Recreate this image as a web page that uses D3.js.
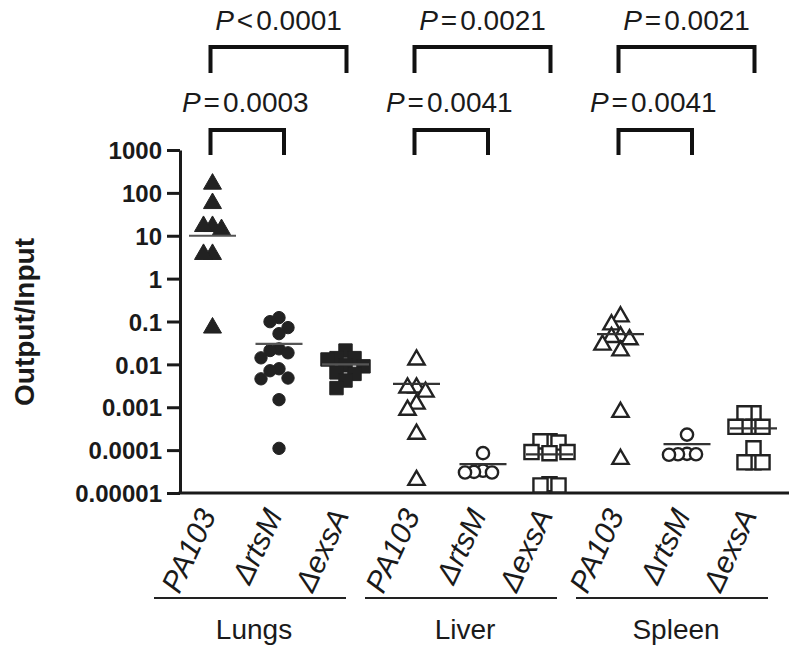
<!DOCTYPE html>
<html>
<head>
<meta charset="utf-8">
<script src="https://cdn.jsdelivr.net/npm/d3@7"></script>
<style>
  html, body { margin: 0; padding: 0; background: #fff; }
  svg { display: block; }
  text { font-family: "Liberation Sans", Arial, Helvetica, sans-serif; fill: #1a1a1a; }
</style>
</head>
<body>
<svg id="chart" width="800" height="655"></svg>
<script>
// ---------------- data ----------------
const groups = ["Lungs", "Liver", "Spleen"];
const strains = ["PA103", "\u0394rtsM", "\u0394exsA"];
const yTickValues = [1000, 100, 10, 1, 0.1, 0.01, 0.001, 0.0001, 0.00001];
const yTickLabels = ["1000", "100", "10", "1", "0.1", "0.01", "0.001", "0.0001", "0.00001"];

const lungsPA103 = [170, 60, 17.5, 17.5, 14.8, 3.9, 3.9, 0.075];
const lungsRtsM  = [0.123, 0.099, 0.072, 0.052, 0.023, 0.021, 0.0186, 0.0142, 0.0079, 0.0071, 0.0048, 0.0046, 0.0015, 0.00011];
const lungsExsA  = [0.021, 0.014, 0.014, 0.013, 0.0095, 0.009, 0.0065, 0.006, 0.0042, 0.0028];
const liverPA103 = [0.0135, 0.003, 0.003, 0.0024, 0.00126, 0.00091, 0.00025, 0.000021];
const liverRtsM  = [0.000085, 0.000033, 0.000031, 0.00003, 0.00003];
const liverExsA  = [0.00016, 0.00016, 0.00015, 0.00009, 0.00009, 0.000085, 0.000016, 0.000015, 0.000015];
const spleenPA103 = [0.137, 0.089, 0.047, 0.045, 0.04, 0.03, 0.022, 0.00081, 0.000065];
const spleenRtsM  = [0.00023, 0.000082, 0.00008, 0.00008, 0.000078];
const spleenExsA  = [0.00072, 0.00072, 0.00035, 0.00035, 0.00035, 0.00035, 0.00011, 0.000052, 0.000052, 0.000052];

// mean line per series, in order Lungs(PA103, rtsM, exsA), Liver(...), Spleen(...)
const meanValues = [10, 0.03, 0.01, 0.0035, 0.000047, 0.00008, 0.051, 0.000138, 0.00032];

// P values: wide bracket (PA103 vs ΔexsA) and narrow bracket (PA103 vs ΔrtsM)
const pWide   = ["<0.0001", "=0.0021", "=0.0021"];
const pNarrow = ["=0.0003", "=0.0041", "=0.0041"];

const seriesValues = [
  lungsPA103, lungsRtsM, lungsExsA,
  liverPA103, liverRtsM, liverExsA,
  spleenPA103, spleenRtsM, spleenExsA
];

// ---------------- layout ----------------
const svg = d3.select("#chart");
const ink = "#1a1a1a";
const axisLeftX = 180, axisBottomY = 493, axisTopY = 150, axisRightX = 789;

const y = d3.scaleLog().domain([1e-5, 1e3]).range([axisBottomY, axisTopY]);
const xGroup = d3.scalePoint().domain(groups).range([212.5, 620.5]);
const xStrain = d3.scalePoint().domain(strains).range([0, 133]);
const xPos = (g, s) => xGroup(g) + xStrain(s);
const xLabelGroup = d3.scalePoint().domain(groups).range([250, 672]);

// series list
const series = [];
groups.forEach((g, gi) => strains.forEach((s, si) => {
  const i = gi * 3 + si;
  series.push({ group: g, strain: s, values: seriesValues[i], mean: meanValues[i],
                filled: gi === 0, shape: si });
}));

// ---------------- y axis ----------------
const yAxis = d3.axisLeft(y)
  .tickValues(yTickValues)
  .tickFormat((d, i) => yTickLabels[i])
  .tickSize(13).tickSizeOuter(0).tickPadding(5);
const gy = svg.append("g").attr("transform", `translate(${axisLeftX},0)`).call(yAxis);
gy.select(".domain").attr("stroke", ink).attr("stroke-width", 3);
gy.selectAll(".tick line").attr("stroke", ink).attr("stroke-width", 3);
gy.selectAll(".tick text")
  .style("font-family", '"Liberation Sans", Arial, sans-serif')
  .style("font-weight", "bold").style("font-size", "24px").attr("fill", "#2a2a2a").attr("dy", "0.36em");

// x axis baseline
svg.append("line")
  .attr("x1", axisLeftX - 1.5).attr("x2", axisRightX)
  .attr("y1", axisBottomY).attr("y2", axisBottomY)
  .attr("stroke", ink).attr("stroke-width", 3);

// y label
svg.append("text")
  .attr("transform", `translate(34,322) rotate(-90)`)
  .attr("text-anchor", "middle")
  .style("font-weight", "bold").style("font-size", "28px").attr("fill", "#2a2a2a")
  .text("Output/Input");

// ---------------- points (dodged like Prism scatter) ----------------
const symbolTypes = [d3.symbolTriangle, d3.symbolCircle, d3.symbolSquare];
const symbolSizes = [[140, 115], [120, 118], [180, 200]]; // [filled, open]
const step = 9, minDx = 9, minDy = 11;

function dodge(values, cx) {
  const placed = [];
  const order = [0, -1, 1, -2, 2, -3, 3, -4, 4];
  values.forEach(v => {
    const py = y(v);
    for (const k of order) {
      const px = cx + k * step;
      if (!placed.some(p => Math.abs(p.x - px) < minDx && Math.abs(p.y - py) < minDy)) {
        placed.push({ x: px, y: py, v });
        break;
      }
    }
  });
  return placed;
}

series.forEach(s => {
  const cx = xPos(s.group, s.strain);
  const pts = dodge(s.values, cx);
  const sym = d3.symbol().type(symbolTypes[s.shape]).size(symbolSizes[s.shape][s.filled ? 0 : 1]);
  svg.append("g").selectAll("path").data(pts).join("path")
    .attr("d", sym)
    .attr("transform", d => `translate(${d.x},${d.y + (s.shape === 0 ? 1 : 0)})`)
    .attr("fill", s.filled ? "#222" : "#fff")
    .attr("stroke", "#222")
    .attr("stroke-width", s.filled ? 1 : 2.4)
    .attr("stroke-linejoin", "miter");
  // mean line
  svg.append("line")
    .attr("x1", cx - 23.5).attr("x2", cx + 23.5)
    .attr("y1", y(s.mean)).attr("y2", y(s.mean))
    .attr("stroke", s.filled ? "#555" : "#333").attr("stroke-width", 2.2);
});

// ---------------- brackets & P values ----------------
function pText(sel, x, yy, val) {
  const t = sel.append("text").attr("x", x).attr("y", yy).attr("text-anchor", "middle")
    .style("font-size", "28px").attr("fill", "#151515");
  t.append("tspan").style("font-style", "italic").text("P");
  t.append("tspan").attr("dx", 3).text(val.charAt(0));
  t.append("tspan").attr("dx", 3).text(val.slice(1));
}
groups.forEach((g, gi) => {
  const xa = xPos(g, strains[0]) - 2;
  const xb = xPos(g, strains[2]) + 1;
  const xm = xPos(g, strains[1]) + 5;
  svg.append("path")
    .attr("d", `M${xa},73 V47 H${xb} V73`)
    .attr("fill", "none").attr("stroke", "#111").attr("stroke-width", 4);
  pText(svg, (xa + xb) / 2, 30, pWide[gi]);
  svg.append("path")
    .attr("d", `M${xa},155 V130 H${xm} V155`)
    .attr("fill", "none").attr("stroke", "#111").attr("stroke-width", 4);
  pText(svg, (xa + xm) / 2 - 2, 112, pNarrow[gi]);
});

// ---------------- category labels ----------------
groups.forEach(g => strains.forEach(s => {
  svg.append("text")
    .attr("transform", `translate(${xPos(g, s) + 4},515) rotate(-65)`)
    .attr("text-anchor", "end")
    .style("font-style", "italic").style("font-size", "30px").attr("fill", "#151515")
    .text(s);
}));

// group underline & labels
groups.forEach(g => {
  const cx = xLabelGroup(g);
  svg.append("line")
    .attr("x1", cx - 96).attr("x2", cx + 96)
    .attr("y1", 598).attr("y2", 598)
    .attr("stroke", "#222").attr("stroke-width", 2.2);
  svg.append("text")
    .attr("x", cx + 4).attr("y", 639).attr("text-anchor", "middle")
    .style("font-size", "28px").attr("fill", "#151515")
    .text(g);
});
</script>
</body>
</html>
